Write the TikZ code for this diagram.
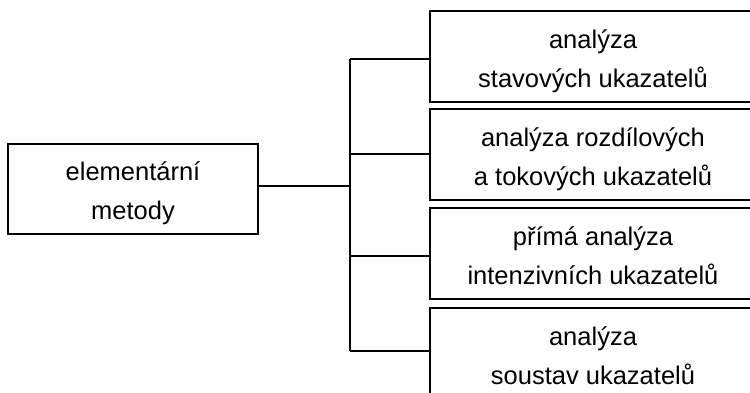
\documentclass[tikz,border=0pt]{standalone}
\usepackage{fontspec}
\setmainfont{Liberation Sans}
\begin{document}
\begin{tikzpicture}[x=1pt, y=-1pt,
  box/.style={draw=black, line width=1.6pt, minimum width=326pt, minimum height=91pt,
              inner sep=0pt, outer sep=0pt, anchor=north west},
  lbox/.style={draw=black, line width=1.6pt, minimum width=250pt, minimum height=90pt,
               inner sep=0pt, outer sep=0pt, anchor=north west},
  txt/.style={align=center, inner sep=0pt, yshift=-3.5pt,
              font=\fontsize{25.5pt}{39pt}\selectfont},
  bus/.style={line width=1.6pt},
  branch/.style={line width=1.1pt}]
  \useasboundingbox (0,0) rectangle (750,393);
  \clip (0,0) rectangle (750,393);

  % root box
  \node[lbox] (root) at (8,144) {};
  \node[txt] (roott) at (root.center) {\strut elementární\\\strut metody};

  % child boxes (they run past the right and bottom edges)
  \node[box] (b1) at (430,11)  {};
  \node[box] (b2) at (430,109) {};
  \node[box] (b3) at (430,208) {};
  \node[box] (b4) at (430,308) {};
  \node[txt] (t1) at (b1.center) {\strut analýza\\\strut stavových ukazatelů};
  \node[txt] (t2) at (b2.center) {\strut analýza rozdílových\\\strut a tokových ukazatelů};
  \node[txt] (t3) at (b3.center) {\strut přímá analýza\\\strut intenzivních ukazatelů};
  \node[txt] (t4) at (b4.center) {\strut analýza\\\strut soustav ukazatelů};

  % vertical bus
  \coordinate (top) at (350,59);
  \coordinate (bot) at (350,351);
  \draw[bus] (top) -- (bot);

  % root to bus
  \draw[branch] (root.east |- 0,186) -- (350,186);

  % bus to children
  \draw[bus] (top) -- (b1.west |- top);
  \draw[branch] (350,154) -- (b2.west |- 0,154);
  \draw[branch] (350,256) -- (b3.west |- 0,256);
  \draw[bus] (bot) -- (b4.west |- bot);
\end{tikzpicture}
\end{document}
